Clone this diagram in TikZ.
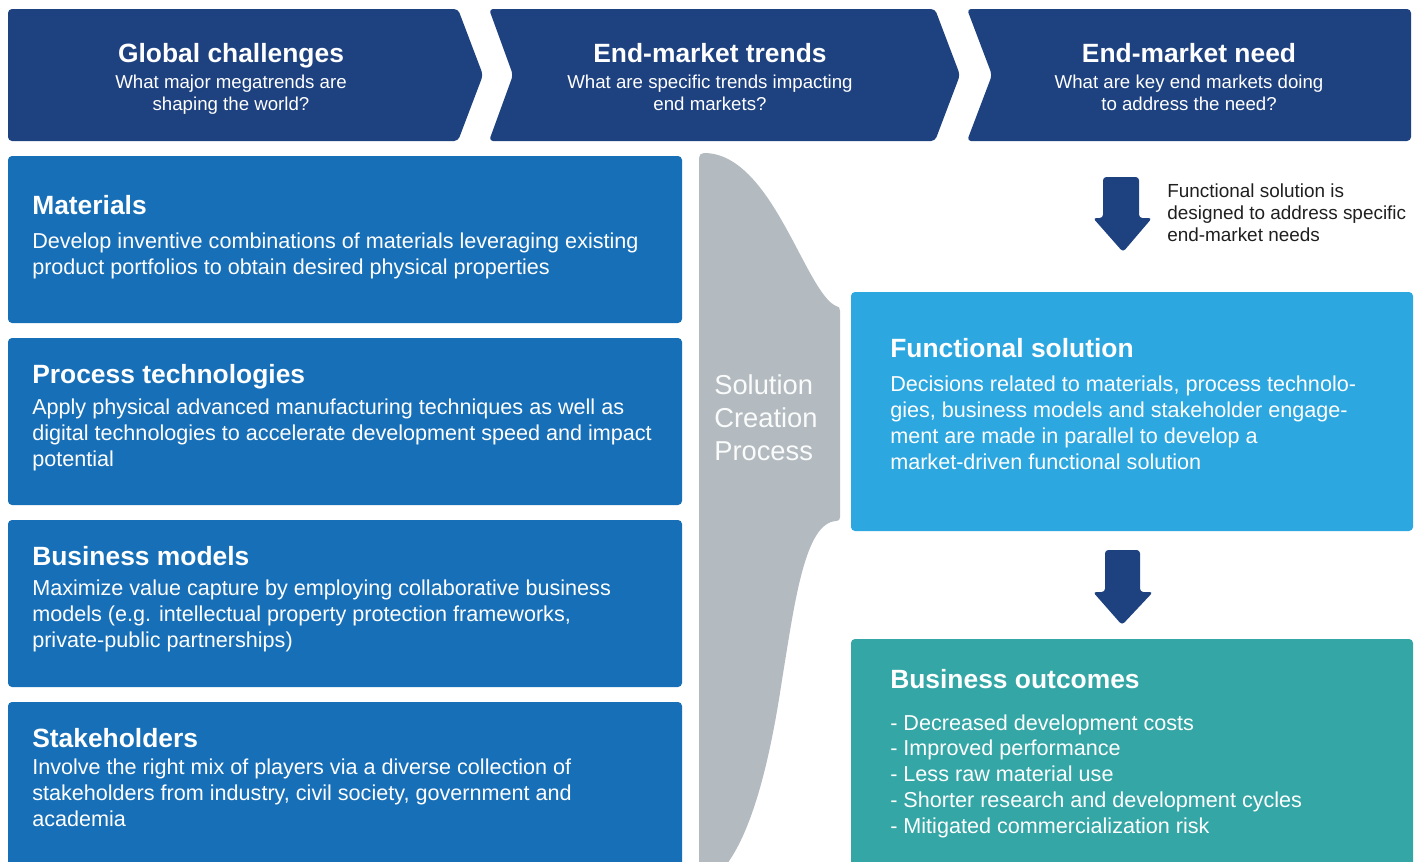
\documentclass[tikz,border=0pt]{standalone}
\usepackage{fontspec}
\setmainfont{Liberation Sans}
\definecolor{navy}{RGB}{30,65,128}
\definecolor{midblue}{RGB}{23,111,183}
\definecolor{skyblue}{RGB}{44,167,224}
\definecolor{teal}{RGB}{52,166,166}
\definecolor{procgrey}{RGB}{179,187,192}
\usetikzlibrary{calc}

\begin{document}
\begin{tikzpicture}[x=0.75pt,y=-0.75pt,
  head/.style={font=\bfseries\fontsize{19.8}{24}\selectfont, text=white, inner sep=0pt},
  quest/.style={font=\fontsize{14}{16.5}\selectfont, text=white, align=center, inner sep=0pt},
  body/.style={font=\fontsize{16.2}{19.3}\selectfont, text=white, align=left, inner sep=0pt},
  notetext/.style={font=\fontsize{14.2}{16.5}\selectfont, text=black!88, align=left, inner sep=0pt}]
  \useasboundingbox (0,0) rectangle (1421,861);
  \clip (0,0) rectangle (1421,861);

  % Chevrons on top
  \fill[navy, rounded corners=3pt] (8,9) -- (458,9) -- (483,75) -- (458,141) -- (8,141) -- cycle;
  \fill[navy, rounded corners=3pt] (489,9) -- (935,9) -- (960,75) -- (935,141) -- (489,141) -- (513,75) -- cycle;
  \fill[navy, rounded corners=3pt] (967,9) -- (1411,9) -- (1411,141) -- (967,141) -- (992,75) -- cycle;

  % (multi-line nodes sit on the baseline of their last line)
  \node[head, anchor=base] (gc) at (231,62) {Global challenges};
  \node[quest, anchor=base] (gcq) at (231,110) {What major megatrends are\\shaping the world?};
  \node[head, anchor=base] (emt) at (710,62) {End-market trends};
  \node[quest, anchor=base] (emtq) at (710,110) {What are specific trends impacting\\end markets?};
  \node[head, anchor=base] (emn) at (1189,62) {End-market need};
  \node[quest, anchor=base] (emnq) at (1189,110) {What are key end markets doing\\to address the need?};

  % Left column boxes
  \fill[midblue, rounded corners=3pt] (8,156) rectangle (682,323);
  \fill[midblue, rounded corners=3pt] (8,338) rectangle (682,505);
  \fill[midblue, rounded corners=3pt] (8,520) rectangle (682,687);
  \fill[midblue, rounded corners=3pt] (8,702) rectangle (682,880);

  \node[head, anchor=base west] (mat) at (32,214) {Materials};
  \node[body, anchor=base west] (matd) at (32,274) {Develop inventive combinations of materials leveraging existing\\product portfolios to obtain desired physical properties};
  \node[head, anchor=base west] (proc) at (32,383) {Process technologies};
  \node[body, anchor=base west] (procd) at (32,466) {Apply physical advanced manufacturing techniques as well as\\digital technologies to accelerate development speed and impact\\potential};
  \node[head, anchor=base west] (bus) at (32,565) {Business models};
  \node[body, anchor=base west] (busd) at (32,647) {Maximize value capture by employing collaborative business\\models (e.g. intellectual property protection frameworks,\\private-public partnerships)};
  \node[head, anchor=base west] (stake) at (32,747) {Stakeholders};
  \node[body, anchor=base west] (staked) at (32,826) {Involve the right mix of players via a diverse collection of\\stakeholders from industry, civil society, government and\\academia};

  % Funnel of the process
  \fill[procgrey] (699,880) -- (699,158) .. controls (699,155) and (701,153) .. (704,153)
    .. controls (772,153) and (805,292) .. (836,306)
    .. controls (839,306) and (840,308) .. (840,311) -- (840,517)
    .. controls (840,520) and (839,521) .. (836,521)
    .. controls (805,523) and (795,600) .. (782,680)
    .. controls (770,760) and (750,850) .. (712,880) -- cycle;
  \node[font=\fontsize{20.5}{24.4}\selectfont, text=white!94!procgrey, align=left, inner sep=0pt, anchor=base west] (scp) at (714,460) {Solution\\Creation\\Process};

  % Right column
  \fill[navy, rounded corners=2.5pt] (1103,177) -- (1139,177) -- (1139,218) -- (1152,218) -- (1123,252) -- (1093,218) -- (1103,218) -- cycle;
  \node[notetext, anchor=base west] (note) at (1167,241) {Functional solution is\\designed to address specific\\end-market needs};

  \fill[skyblue, rounded corners=3pt] (851,292) rectangle (1413,531);
  \node[head, anchor=base west] (fs) at (890,357) {Functional solution};
  \node[body, anchor=base west] (fsd) at (890,469) {Decisions related to materials, process technolo-\\gies, business models and stakeholder engage-\\ment are made in parallel to develop a\\market-driven functional solution};

  \fill[navy, rounded corners=2.5pt] (1105,550) -- (1140,550) -- (1140,592) -- (1153,592) -- (1122,625) -- (1093,592) -- (1105,592) -- cycle;

  \fill[teal, rounded corners=3pt] (851,639) rectangle (1413,880);
  \node[head, anchor=base west] (bo) at (890,688) {Business outcomes};
  \node[body, anchor=base west] (bod) at (890,833) {- Decreased development costs\\- Improved performance\\- Less raw material use\\- Shorter research and development cycles\\- Mitigated commercialization risk};
\end{tikzpicture}
\end{document}
